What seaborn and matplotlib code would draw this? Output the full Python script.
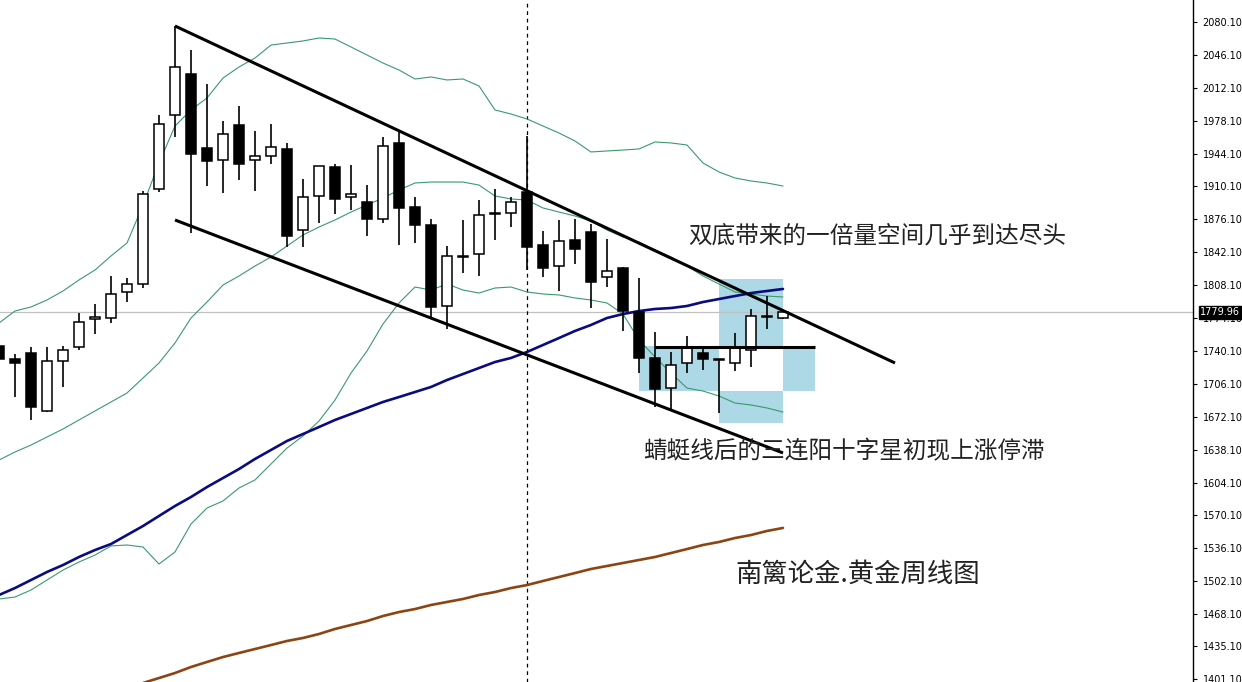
import numpy as np
import matplotlib
matplotlib.use("Agg")
import matplotlib.pyplot as plt
import matplotlib.transforms as mtransforms
from matplotlib.patches import Rectangle
import seaborn as sns

# weekly gold candles
opens = [1745.2, 1731.8, 1738.0, 1678.1, 1729.7, 1744.2, 1773.2, 1774.2, 1801.1, 1809.3,
         1907.5, 1984.0, 2026.4, 1949.9, 1937.5, 1973.7, 1937.5, 1941.6, 1948.9, 1865.1,
         1900.3, 1930.2, 1899.2, 1894.1, 1876.5, 1955.1, 1888.9, 1870.3, 1786.6, 1837.5,
         1840.3, 1881.2, 1882.7, 1904.4, 1849.6, 1828.0, 1854.8, 1863.1, 1816.6, 1825.9,
         1780.4, 1732.8, 1701.9, 1727.7, 1738.0, 1731.0, 1727.7, 1741.1, 1775.0, 1774.2]
highs = [1748.3, 1737.0, 1744.2, 1744.2, 1745.2, 1779.4, 1788.7, 1817.6, 1815.5, 1905.4,
         1984.0, 2076.0, 2051.2, 2016.0, 1977.8, 1993.3, 1967.4, 1974.7, 1955.1, 1917.8,
         1931.3, 1933.3, 1932.3, 1911.6, 1961.2, 1967.4, 1899.2, 1876.5, 1848.6, 1875.5,
         1896.1, 1907.5, 1899.2, 1962.3, 1864.1, 1875.5, 1876.5, 1871.3, 1855.8, 1826.9,
         1815.5, 1759.7, 1739.0, 1755.6, 1743.2, 1731.8, 1758.7, 1783.5, 1796.9, 1781.0]
lows = [1728.7, 1692.6, 1668.8, 1677.0, 1702.9, 1741.1, 1757.7, 1769.0, 1790.7, 1805.2,
        1904.4, 1961.2, 1862.0, 1910.6, 1903.4, 1916.8, 1905.4, 1933.3, 1847.6, 1847.6,
        1872.4, 1881.7, 1885.8, 1858.9, 1872.4, 1849.6, 1851.7, 1775.2, 1762.8, 1820.7,
        1817.6, 1854.8, 1868.2, 1823.8, 1816.6, 1802.1, 1830.0, 1784.5, 1806.2, 1760.8,
        1717.4, 1682.2, 1678.1, 1717.4, 1720.5, 1676.0, 1719.4, 1723.6, 1762.8, 1773.5]
closes = [1731.8, 1727.7, 1682.2, 1729.7, 1741.1, 1770.1, 1775.2, 1799.0, 1809.3, 1902.3,
          1974.7, 2033.6, 1943.7, 1936.4, 1964.3, 1933.3, 1941.6, 1950.9, 1858.9, 1899.2,
          1931.3, 1897.2, 1902.3, 1876.5, 1951.9, 1887.9, 1870.3, 1785.6, 1838.3, 1838.5,
          1880.6, 1882.2, 1894.1, 1847.6, 1825.9, 1853.8, 1845.5, 1811.4, 1822.8, 1781.4,
          1732.8, 1700.8, 1725.6, 1744.2, 1731.8, 1731.0, 1743.2, 1776.3, 1775.0, 1779.96]

# bollinger bands (green)
bb_upper = [1769.0, 1781.4, 1785.6, 1792.8, 1802.1, 1813.5, 1823.8, 1838.3, 1851.7, 1891.0,
            1934.4, 1972.6, 1989.2, 2001.6, 2022.2, 2033.6, 2042.9, 2056.3, 2058.4, 2060.5,
            2063.6, 2062.5, 2054.3, 2046.0, 2037.7, 2030.5, 2021.2, 2023.3, 2020.2, 2021.2,
            2014.0, 1989.2, 1985.0, 1979.9, 1972.6, 1965.4, 1957.1, 1945.8, 1946.8, 1947.8,
            1948.9, 1956.1, 1955.1, 1953.0, 1934.4, 1925.1, 1918.9, 1915.8, 1913.7, 1910.6]
bb_mid = [1627.4, 1635.7, 1642.9, 1651.2, 1659.5, 1668.8, 1678.1, 1687.4, 1696.7, 1712.2,
          1727.7, 1748.4, 1774.2, 1790.7, 1808.3, 1817.6, 1827.9, 1837.2, 1848.6, 1860.0,
          1868.2, 1875.5, 1883.7, 1891.0, 1898.2, 1906.5, 1913.7, 1914.7, 1914.7, 1914.7,
          1911.6, 1900.3, 1897.2, 1896.1, 1887.9, 1883.7, 1879.6, 1874.4, 1865.1, 1857.9,
          1852.7, 1844.5, 1837.2, 1827.9, 1817.6, 1809.3, 1801.1, 1799.0, 1796.9, 1795.9]
bb_lower = [1483.8, 1485.8, 1493.1, 1503.4, 1513.7, 1522.0, 1529.2, 1538.6, 1539.6, 1537.5,
            1519.9, 1532.4, 1561.3, 1577.8, 1585.1, 1598.5, 1606.8, 1623.3, 1639.8, 1652.2,
            1667.7, 1689.4, 1717.3, 1740.1, 1768.0, 1789.7, 1806.2, 1803.1, 1809.3, 1803.1,
            1800.0, 1805.2, 1806.2, 1801.1, 1799.0, 1798.0, 1794.9, 1792.8, 1789.7, 1778.3,
            1751.5, 1733.9, 1717.3, 1701.8, 1698.7, 1693.6, 1686.3, 1684.3, 1681.2, 1677.0]

# moving averages
ma_blue = [1487.9, 1495.1, 1503.4, 1511.7, 1518.9, 1527.2, 1534.4, 1540.6, 1549.9, 1559.2,
           1569.6, 1579.9, 1589.2, 1599.5, 1608.8, 1618.1, 1628.5, 1637.8, 1647.1, 1654.3,
           1661.5, 1668.8, 1675.0, 1681.2, 1687.4, 1692.5, 1697.7, 1702.9, 1710.1, 1716.3,
           1722.5, 1728.7, 1732.9, 1739.1, 1746.3, 1753.5, 1760.8, 1767.0, 1774.2, 1778.3,
           1781.4, 1783.5, 1784.5, 1786.6, 1790.7, 1793.8, 1796.9, 1800.0, 1802.1, 1804.2]
brown_start = 9
ma_brown = [1397.0, 1402.1, 1407.3, 1413.5, 1418.7, 1423.8, 1428.0, 1432.1, 1436.2, 1440.4,
            1443.5, 1447.6, 1452.8, 1456.9, 1461.0, 1466.2, 1470.3, 1473.4, 1477.6, 1480.7,
            1483.8, 1487.9, 1491.0, 1495.1, 1498.2, 1502.4, 1506.5, 1510.6, 1514.8, 1517.9,
            1521.0, 1524.1, 1527.2, 1531.3, 1535.4, 1539.6, 1542.7, 1546.8, 1549.9, 1554.1,
            1557.2]

# drawn objects (bar index, price)
upper_channel = [(11, 2076.0), (56, 1727.7)]
lower_channel = [(11, 1875.5), (49, 1634.7)]
flat_line = [(41, 1744.2), (51, 1744.2)]
boxes = [(40, 45, 1698.3, 1745.7), (45, 49, 1745.7, 1814.5),
         (49, 51, 1698.3, 1745.7), (45, 49, 1666.1, 1698.3)]
vline_bar = 33
last_price = 1779.96

tick_labels = ["2080.10", "2046.10", "2012.10", "1978.10", "1944.10", "1910.10", "1876.10",
               "1842.10", "1808.10", "1774.10", "1740.10", "1706.10", "1672.10", "1638.10",
               "1604.10", "1570.10", "1536.10", "1502.10", "1468.10", "1435.10", "1401.10"]

notes = [("双底带来的一倍量空间几乎到达尽头", 43.06, 1858.9, 17),
         ("蜻蜓线后的三连阳十字星初现上涨停滞", 40.25, 1635.7, 17),
         ("南篱论金.黄金周线图", 46.0, 1509.6, 19)]

sns.set_style("white")
plt.rcParams['font.family'] = ['Noto Sans CJK SC', 'DejaVu Sans']

fig = plt.figure(figsize=(12.42, 6.82), dpi=100)
ax = fig.add_axes([0, 0, 1193 / 1242, 1])

idx = np.arange(len(closes))

# background boxes
for x0, x1, y0, y1 in boxes:
    ax.add_patch(Rectangle((x0, y0), x1 - x0, y1 - y0, facecolor='#add8e6',
                           edgecolor='none', zorder=1))

ax.axhline(last_price, color='#c0c0c0', lw=0.9, zorder=1.5)
ax.axvline(vline_bar, color='black', lw=0.9, ls=(0, (3, 3)), zorder=1.5)

green = '#3a9a6c'
for band in [bb_upper, bb_mid, bb_lower]:
    sns.lineplot(x=idx, y=band, ax=ax, color=green, lw=0.8, zorder=2)
sns.lineplot(x=idx, y=ma_blue, ax=ax, color='#0b0b80', lw=1.9, zorder=2.5)
sns.lineplot(x=np.arange(brown_start, brown_start + len(ma_brown)), y=ma_brown, ax=ax,
             color='#8b4513', lw=1.9, zorder=2.5)

# candles
for i in idx:
    o, h, l, c = opens[i], highs[i], lows[i], closes[i]
    ax.vlines(i, l, h, color='black', lw=1.2, zorder=3)
    bottom = min(o, c)
    height = max(abs(c - o), 1.2)
    face = 'white' if c > o else 'black'
    ax.bar(i, height, bottom=bottom, width=0.62, color=face, edgecolor='black',
           lw=1.1, zorder=4)

for line in [upper_channel, lower_channel, flat_line]:
    xs, ys = zip(*line)
    ax.plot(xs, ys, color='black', lw=2.2, zorder=5, solid_capstyle='butt')

for txt, x, y, size in notes:
    ax.text(x, y, txt, fontsize=size, color='#222222', ha='left', va='center', zorder=6)

ax.set_xlim(0.0625, 74.625)
ax.set_ylim(1398.0, 2102.84)
ax.set_xticks([])
ax.yaxis.tick_right()
ax.set_yticks([float(t) for t in tick_labels])
ax.set_yticklabels(tick_labels, family='DejaVu Sans')
ax.tick_params(axis='y', direction='out', length=3, width=0.8, labelsize=7, pad=4,
               colors='black')
for side in ['top', 'left', 'bottom']:
    ax.spines[side].set_visible(False)
ax.spines['right'].set_color('black')
ax.spines['right'].set_linewidth(1.0)
ax.set_xlabel('')
ax.set_ylabel('')

trans = mtransforms.blended_transform_factory(ax.transAxes, ax.transData)
ax.text(1.006, last_price, f"{last_price:.2f}", transform=trans, fontsize=7,
        family='DejaVu Sans', color='white', ha='left', va='center', zorder=10,
        bbox=dict(boxstyle='square,pad=0.15', facecolor='black', edgecolor='black'),
        clip_on=False)

fig.savefig('out.png', dpi=100)
